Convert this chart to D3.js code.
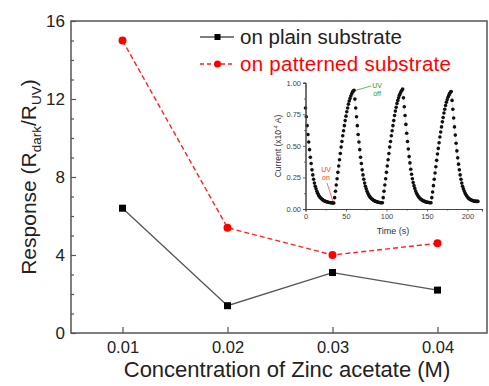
<html>
<head>
<style>
body { margin: 0; background: #fff; }
text { font-family: "Liberation Sans", Arial, sans-serif; }
</style>
</head>
<body>
<script src="https://d3js.org/d3.v7.min.js"></script>
<script>

// main chart data
var concentration = [0.01, 0.02, 0.03, 0.04];
var plainResponse = [6.4, 1.4, 3.1, 2.2];
var patternedResponse = [15.0, 5.4, 4.0, 4.6];
var yTickValues = [0, 4, 8, 12, 16];
var xTickLabels = ["0.01", "0.02", "0.03", "0.04"];

// inset: current (x10^-4 A), one point per second starting at t = 0 s
var decay0 = [0.80, 0.73, 0.66, 0.59, 0.53, 0.47, 0.41, 0.36, 0.31, 0.27, 0.235, 0.205, 0.18, 0.16, 0.14, 0.125, 0.112, 0.10, 0.092, 0.085, 0.079, 0.074, 0.069, 0.065, 0.062, 0.059, 0.057, 0.055, 0.053, 0.052, 0.051, 0.05, 0.05, 0.049, 0.048, 0.048];
var rise1 = [0.09, 0.14, 0.19, 0.24, 0.29, 0.34, 0.39, 0.44, 0.49, 0.535, 0.58, 0.62, 0.66, 0.70, 0.735, 0.77, 0.80, 0.83, 0.855, 0.875, 0.895, 0.91, 0.925, 0.935, 0.94];
var decay1 = [0.87, 0.80, 0.73, 0.66, 0.59, 0.53, 0.47, 0.41, 0.36, 0.31, 0.27, 0.235, 0.205, 0.18, 0.16, 0.14, 0.125, 0.112, 0.10, 0.092, 0.085, 0.079, 0.074, 0.069, 0.065, 0.062, 0.059, 0.057, 0.055, 0.053, 0.052, 0.051, 0.05, 0.05, 0.049];
var rise2 = [0.09, 0.14, 0.19, 0.24, 0.29, 0.34, 0.39, 0.44, 0.49, 0.535, 0.58, 0.62, 0.66, 0.70, 0.74, 0.775, 0.805, 0.835, 0.86, 0.88, 0.90, 0.915, 0.93, 0.94, 0.95];
var decay2 = [0.88, 0.81, 0.74, 0.67, 0.60, 0.535, 0.475, 0.415, 0.365, 0.315, 0.275, 0.24, 0.21, 0.185, 0.163, 0.143, 0.127, 0.114, 0.103, 0.094, 0.087, 0.08, 0.075, 0.07, 0.066, 0.063, 0.06, 0.058, 0.056, 0.054, 0.053, 0.052, 0.051, 0.05, 0.05];
var rise3 = [0.09, 0.135, 0.185, 0.235, 0.285, 0.335, 0.385, 0.435, 0.48, 0.525, 0.57, 0.61, 0.65, 0.69, 0.725, 0.76, 0.79, 0.82, 0.845, 0.865, 0.885, 0.90, 0.915, 0.925, 0.93];
var decay3 = [0.86, 0.79, 0.72, 0.65, 0.585, 0.52, 0.46, 0.405, 0.355, 0.31, 0.27, 0.235, 0.205, 0.18, 0.16, 0.142, 0.127, 0.114, 0.104, 0.095, 0.088, 0.082, 0.077, 0.073, 0.07, 0.067, 0.065, 0.063, 0.062, 0.061, 0.06, 0.06, 0.06];
var insetTicksX = [0, 50, 100, 150, 200];
var insetTicksY = [0, 0.25, 0.5, 0.75, 1.0];

var width = 489, height = 386;
var margin = {top: 21, right: 2, bottom: 53, left: 71};

var svg = d3.select("body").append("svg")
    .attr("width", width)
    .attr("height", height);

var x = d3.scaleLinear()
    .domain([0.005095, 0.044714])
    .range([margin.left, width - margin.right]);

var y = d3.scaleLinear()
    .domain([0, 16])
    .range([height - margin.bottom, margin.top]);

var axisColor = "#555";
var textColor = "#222";

// frame
svg.append("rect")
    .attr("x", margin.left)
    .attr("y", margin.top)
    .attr("width", width - margin.right - margin.left)
    .attr("height", height - margin.bottom - margin.top)
    .attr("fill", "none")
    .attr("stroke", axisColor)
    .attr("stroke-width", 1.5);

// y axis, ticks point inward
var yAxis = svg.append("g")
    .attr("transform", "translate(" + margin.left + ",0)")
    .call(d3.axisLeft(y).tickValues(yTickValues).tickSize(-5).tickPadding(6));
svg.append("g")
    .attr("transform", "translate(" + margin.left + ",0)")
    .call(d3.axisLeft(y).tickValues(d3.range(0, 17).filter(function(d) { return d % 4 != 0; }))
      .tickSize(-3).tickFormat(""));

var xAxis = svg.append("g")
    .attr("transform", "translate(0," + (height - margin.bottom) + ")")
    .call(d3.axisBottom(x).tickValues(concentration).tickSize(-6).tickPadding(8)
      .tickFormat(function(d, i) { return xTickLabels[i]; }));

svg.selectAll(".domain").remove();
svg.selectAll(".tick line").attr("stroke", axisColor).attr("stroke-width", 1.2);
yAxis.selectAll("text").attr("font-size", 17).attr("fill", textColor).attr("font-family", "Liberation Sans, Arial");
xAxis.selectAll("text").attr("font-size", 16.5).attr("fill", textColor).attr("font-family", "Liberation Sans, Arial");

// axis titles
svg.append("text")
    .attr("x", 287)
    .attr("y", 377)
    .attr("text-anchor", "middle")
    .attr("font-size", 22)
    .attr("fill", textColor)
    .text("Concentration of Zinc acetate (M)");

var ylab = svg.append("text")
    .attr("transform", "translate(36," + 177 + ") rotate(-90)")
    .attr("text-anchor", "middle")
    .attr("font-size", 21)
    .attr("fill", textColor);
ylab.append("tspan").text("Response (R");
ylab.append("tspan").attr("font-size", 13.5).attr("dy", 5).text("dark");
ylab.append("tspan").attr("dy", -5).text("/R");
ylab.append("tspan").attr("font-size", 13.5).attr("dy", 5).text("UV");
ylab.append("tspan").attr("dy", -5).text(")");

var line = d3.line()
    .x(function(d) { return x(d[0]); })
    .y(function(d) { return y(d[1]); });

var plainPts = concentration.map(function(c, i) { return [c, plainResponse[i]]; });
var patternedPts = concentration.map(function(c, i) { return [c, patternedResponse[i]]; });

svg.append("path")
    .datum(plainPts)
    .attr("d", line)
    .attr("fill", "none")
    .attr("stroke", "#555")
    .attr("stroke-width", 1.3);

svg.append("path")
    .datum(patternedPts)
    .attr("d", line)
    .attr("fill", "none")
    .attr("stroke", "#ff2020")
    .attr("stroke-width", 1.4)
    .attr("stroke-dasharray", "5,3");

svg.selectAll(".plain").data(plainPts).enter().append("rect")
    .attr("x", function(d) { return x(d[0]) - 3.5; })
    .attr("y", function(d) { return y(d[1]) - 3.5; })
    .attr("width", 7)
    .attr("height", 7)
    .attr("fill", "#000");

svg.selectAll(".patterned").data(patternedPts).enter().append("circle")
    .attr("cx", function(d) { return x(d[0]); })
    .attr("cy", function(d) { return y(d[1]); })
    .attr("r", 4)
    .attr("fill", "#ff0000");

// legend
var legend = svg.append("g");
legend.append("line").attr("x1", 200).attr("x2", 234).attr("y1", 37).attr("y2", 37)
    .attr("stroke", "#555").attr("stroke-width", 1.3);
legend.append("rect").attr("x", 214.5).attr("y", 34).attr("width", 6).attr("height", 6).attr("fill", "#000");
legend.append("text").attr("x", 240).attr("y", 44).attr("font-size", 20.5).attr("fill", textColor)
    .text("on plain substrate");
legend.append("line").attr("x1", 200).attr("x2", 234).attr("y1", 64).attr("y2", 64)
    .attr("stroke", "#ff2020").attr("stroke-width", 1.3).attr("stroke-dasharray", "4,3");
legend.append("circle").attr("cx", 217.5).attr("cy", 64).attr("r", 3.5).attr("fill", "#ff0000");
legend.append("text").attr("x", 240).attr("y", 71).attr("font-size", 20.5).attr("fill", "#ff0000")
    .attr("textLength", 211)
    .text("on patterned substrate");

// inset
var insetCurrent = decay0.concat(rise1, decay1, rise2, decay2, rise3, decay3);
var insetPts = insetCurrent.map(function(v, i) { return [i, v]; });

var ix = d3.scaleLinear().domain([0, 218]).range([305.5, 482]);
var iy = d3.scaleLinear().domain([0, 1]).range([209, 82.7]);

var inset = svg.append("g");

inset.append("path")
    .datum(insetPts)
    .attr("d", d3.line().x(function(d) { return ix(d[0]); }).y(function(d) { return iy(d[1]); }))
    .attr("fill", "none")
    .attr("stroke", "#ccc")
    .attr("stroke-width", 0.5);

inset.selectAll("circle").data(insetPts).enter().append("circle")
    .attr("cx", function(d) { return ix(d[0]); })
    .attr("cy", function(d) { return iy(d[1]); })
    .attr("r", 1.8)
    .attr("fill", "#111");

var ixAxis = inset.append("g")
    .attr("transform", "translate(0,209)")
    .call(d3.axisBottom(ix).tickValues(insetTicksX).tickSize(2.5).tickPadding(2));
inset.append("g")
    .attr("transform", "translate(0,209)")
    .call(d3.axisBottom(ix).tickValues([25, 75, 125, 175]).tickSize(1.5).tickFormat(""));
var iyAxis = inset.append("g")
    .attr("transform", "translate(305.5,0)")
    .call(d3.axisLeft(iy).tickValues(insetTicksY).tickSize(2.5).tickPadding(2)
      .tickFormat(d3.format(".2f")));
inset.append("g")
    .attr("transform", "translate(305.5,0)")
    .call(d3.axisLeft(iy).tickValues([0.125, 0.375, 0.625, 0.875]).tickSize(1.5).tickFormat(""));

inset.selectAll(".domain").attr("stroke", "#444").attr("stroke-width", 1);
inset.selectAll(".tick line").attr("stroke", "#444").attr("stroke-width", 0.8);
inset.selectAll(".tick text").attr("font-size", 7.5).attr("fill", "#444").attr("font-family", "Liberation Sans, Arial");

inset.append("text")
    .attr("x", 393).attr("y", 234)
    .attr("text-anchor", "middle")
    .attr("font-size", 9)
    .attr("fill", "#333")
    .text("Time (s)");

var ilab = inset.append("text")
    .attr("transform", "translate(281,146) rotate(-90)")
    .attr("text-anchor", "middle")
    .attr("font-size", 8.5)
    .attr("fill", "#333");
ilab.append("tspan").text("Current (x10");
ilab.append("tspan").attr("font-size", 5.5).attr("dy", -3).text("-4");
ilab.append("tspan").attr("dy", 3).text(" A)");

// UV on / off notes
inset.append("text").attr("x", 326).attr("y", 172).attr("text-anchor", "middle")
    .attr("font-size", 7).attr("fill", "#ff3030").text("UV");
inset.append("text").attr("x", 326).attr("y", 180).attr("text-anchor", "middle")
    .attr("font-size", 7).attr("fill", "#ff3030").text("on");
inset.append("line").attr("x1", 327).attr("y1", 183).attr("x2", ix(34)).attr("y2", iy(0.06))
    .attr("stroke", "#ff3030").attr("stroke-width", 0.7);

inset.append("text").attr("x", 377).attr("y", 88).attr("text-anchor", "middle")
    .attr("font-size", 7).attr("fill", "#2a9a2a").text("UV");
inset.append("text").attr("x", 377).attr("y", 96).attr("text-anchor", "middle")
    .attr("font-size", 7).attr("fill", "#2a9a2a").text("off");
inset.append("line").attr("x1", 371).attr("y1", 86).attr("x2", ix(60) + 2).attr("y2", iy(0.94))
    .attr("stroke", "#2a9a2a").attr("stroke-width", 0.7);

</script>
</body>
</html>
